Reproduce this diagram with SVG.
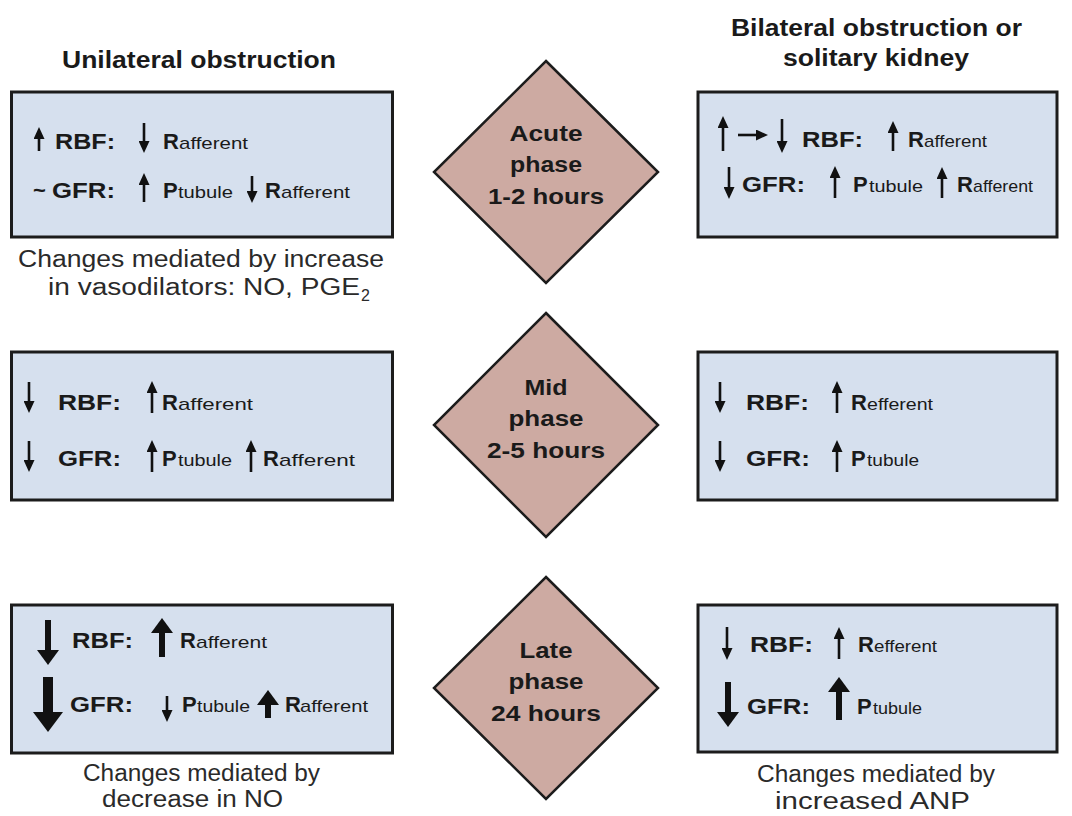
<svg xmlns="http://www.w3.org/2000/svg" width="1072" height="816" viewBox="0 0 1072 816">
<style>
.box{fill:#d6e0ee;stroke:#1c1c1c;stroke-width:3}
.dia{fill:#cdaaa2;stroke:#1c1c1c;stroke-width:2.5}
text{font-family:"Liberation Sans",Arial,Helvetica,sans-serif;fill:#1a1a1a}
.h{font-weight:bold;font-size:23px}
.c{font-size:23px;fill:#2a2a2a}
.d{font-weight:bold;font-size:22px;text-anchor:middle}
.b{font-weight:bold;font-size:22px}
.s{font-size:17px}
.sub{font-size:16px;fill:#2a2a2a}
.t{stroke:#111;stroke-width:2.6;fill:none;marker-end:url(#at)}
.m{stroke:#111;stroke-width:6;fill:none;marker-end:url(#am)}
.g{stroke:#111;stroke-width:10;fill:none;marker-end:url(#ab)}
</style>
<defs>
<marker id="at" markerUnits="userSpaceOnUse" viewBox="0 0 12 11" markerWidth="12" markerHeight="11" refX="3" refY="5.5" orient="auto"><path d="M0,0 L12,5.5 L0,11 z" fill="#111"/></marker>
<marker id="am" markerUnits="userSpaceOnUse" viewBox="0 0 15 22" markerWidth="15" markerHeight="22" refX="2" refY="11" orient="auto"><path d="M0,0 L15,11 L0,22 z" fill="#111"/></marker>
<marker id="ab" markerUnits="userSpaceOnUse" viewBox="0 0 20 30" markerWidth="20" markerHeight="30" refX="2" refY="15" orient="auto"><path d="M0,0 L20,15 L0,30 z" fill="#111"/></marker>
</defs>
<rect width="1072" height="816" fill="#ffffff"/>

<g id="header-unilateral">
<text class="h" x="62" y="68" textLength="274" lengthAdjust="spacingAndGlyphs">Unilateral obstruction</text>
</g>
<g id="header-bilateral">
<text class="h" x="731" y="36" textLength="291" lengthAdjust="spacingAndGlyphs">Bilateral obstruction or</text>
<text class="h" x="783" y="66" textLength="186" lengthAdjust="spacingAndGlyphs">solitary kidney</text>
</g>

<g id="connectors"></g>

<g id="phase-acute">
<polygon class="dia" points="546,61 658,172 546,283 434,172"/>
<text class="d" x="546" y="141" textLength="73" lengthAdjust="spacingAndGlyphs">Acute</text>
<text class="d" x="546" y="172" textLength="72" lengthAdjust="spacingAndGlyphs">phase</text>
<text class="d" x="546" y="204" textLength="116" lengthAdjust="spacingAndGlyphs">1-2 hours</text>
</g>
<g id="phase-mid">
<polygon class="dia" points="546,313 658,425 546,537 434,425"/>
<text class="d" x="546" y="395" textLength="43" lengthAdjust="spacingAndGlyphs">Mid</text>
<text class="d" x="546" y="426" textLength="75" lengthAdjust="spacingAndGlyphs">phase</text>
<text class="d" x="546" y="458" textLength="118" lengthAdjust="spacingAndGlyphs">2-5 hours</text>
</g>
<g id="phase-late">
<polygon class="dia" points="546,577 658,688 546,799 434,688"/>
<text class="d" x="546" y="658" textLength="53" lengthAdjust="spacingAndGlyphs">Late</text>
<text class="d" x="546" y="689" textLength="75" lengthAdjust="spacingAndGlyphs">phase</text>
<text class="d" x="546" y="721" textLength="110" lengthAdjust="spacingAndGlyphs">24 hours</text>
</g>

<g id="uni-acute">
<rect class="box" x="11.5" y="92" width="381" height="145"/>
<line class="t" x1="39" y1="151" x2="39" y2="136"/>
<text class="b" x="55" y="149" textLength="60" lengthAdjust="spacingAndGlyphs">RBF:</text>
<line class="t" x1="144" y1="123" x2="144" y2="144"/>
<text class="b" x="163" y="149">R</text>
<text class="s" x="179" y="149" textLength="69" lengthAdjust="spacingAndGlyphs">afferent</text>
<text class="b" x="33" y="198">~</text>
<text class="b" x="52" y="198" textLength="63" lengthAdjust="spacingAndGlyphs">GFR:</text>
<line class="t" x1="144" y1="202" x2="144" y2="182"/>
<text class="b" x="163" y="198">P</text>
<text class="s" x="178" y="198" textLength="55" lengthAdjust="spacingAndGlyphs">tubule</text>
<line class="t" x1="252" y1="176" x2="252" y2="194"/>
<text class="b" x="265" y="198">R</text>
<text class="s" x="281" y="198" textLength="69" lengthAdjust="spacingAndGlyphs">afferent</text>
</g>
<g id="uni-acute-note">
<text class="c" x="18" y="267" textLength="366" lengthAdjust="spacingAndGlyphs">Changes mediated by increase</text>
<text class="c" x="48" y="295" textLength="312" lengthAdjust="spacingAndGlyphs">in vasodilators: NO, PGE</text>
<text class="sub" x="361" y="301">2</text>
</g>

<g id="bi-acute">
<rect class="box" x="698" y="92" width="359" height="145"/>
<line class="t" x1="723" y1="151" x2="723" y2="125"/>
<line class="t" x1="738" y1="135" x2="759" y2="135"/>
<line class="t" x1="782" y1="119" x2="782" y2="144"/>
<text class="b" x="802" y="147" textLength="61" lengthAdjust="spacingAndGlyphs">RBF:</text>
<line class="t" x1="893" y1="151" x2="893" y2="130"/>
<text class="b" x="908" y="147">R</text>
<text class="s" x="924" y="147" textLength="63" lengthAdjust="spacingAndGlyphs">afferent</text>
<line class="t" x1="729" y1="167" x2="729" y2="190"/>
<text class="b" x="742" y="192" textLength="63" lengthAdjust="spacingAndGlyphs">GFR:</text>
<line class="t" x1="835" y1="198" x2="835" y2="175"/>
<text class="b" x="853" y="192">P</text>
<text class="s" x="869" y="192" textLength="54" lengthAdjust="spacingAndGlyphs">tubule</text>
<line class="t" x1="942" y1="198" x2="942" y2="176"/>
<text class="b" x="957" y="192">R</text>
<text class="s" x="973" y="192" textLength="60" lengthAdjust="spacingAndGlyphs">afferent</text>
</g>

<g id="uni-mid">
<rect class="box" x="11.5" y="352" width="381" height="148"/>
<line class="t" x1="29" y1="382" x2="29" y2="404"/>
<text class="b" x="58" y="410" textLength="63" lengthAdjust="spacingAndGlyphs">RBF:</text>
<line class="t" x1="152" y1="413" x2="152" y2="390"/>
<text class="b" x="162" y="410">R</text>
<text class="s" x="178" y="410" textLength="75" lengthAdjust="spacingAndGlyphs">afferent</text>
<line class="t" x1="29" y1="441" x2="29" y2="463"/>
<text class="b" x="58" y="466" textLength="63" lengthAdjust="spacingAndGlyphs">GFR:</text>
<line class="t" x1="152" y1="472" x2="152" y2="449"/>
<text class="b" x="162" y="466">P</text>
<text class="s" x="178" y="466" textLength="54" lengthAdjust="spacingAndGlyphs">tubule</text>
<line class="t" x1="251" y1="472" x2="251" y2="449"/>
<text class="b" x="263" y="466">R</text>
<text class="s" x="279" y="466" textLength="76" lengthAdjust="spacingAndGlyphs">afferent</text>
</g>

<g id="bi-mid">
<rect class="box" x="698" y="352" width="359" height="148"/>
<line class="t" x1="720" y1="382" x2="720" y2="404"/>
<text class="b" x="746" y="410" textLength="63" lengthAdjust="spacingAndGlyphs">RBF:</text>
<line class="t" x1="837" y1="413" x2="837" y2="390"/>
<text class="b" x="851" y="410">R</text>
<text class="s" x="867" y="410" textLength="66" lengthAdjust="spacingAndGlyphs">efferent</text>
<line class="t" x1="720" y1="441" x2="720" y2="463"/>
<text class="b" x="746" y="466" textLength="64" lengthAdjust="spacingAndGlyphs">GFR:</text>
<line class="t" x1="837" y1="472" x2="837" y2="449"/>
<text class="b" x="851" y="466">P</text>
<text class="s" x="867" y="466" textLength="52" lengthAdjust="spacingAndGlyphs">tubule</text>
</g>

<g id="uni-late">
<rect class="box" x="11.5" y="605" width="381" height="148"/>
<line class="m" x1="48" y1="620" x2="48" y2="652"/>
<text class="b" x="72" y="648" textLength="61" lengthAdjust="spacingAndGlyphs">RBF:</text>
<line class="m" x1="162" y1="657" x2="162" y2="631"/>
<text class="b" x="180" y="648">R</text>
<text class="s" x="196" y="648" textLength="71" lengthAdjust="spacingAndGlyphs">afferent</text>
<line class="g" x1="48" y1="677" x2="48" y2="714"/>
<text class="b" x="70" y="712" textLength="63" lengthAdjust="spacingAndGlyphs">GFR:</text>
<line class="t" x1="167" y1="696" x2="167" y2="713"/>
<text class="b" x="182" y="712">P</text>
<text class="s" x="197" y="712" textLength="53" lengthAdjust="spacingAndGlyphs">tubule</text>
<line class="m" x1="268" y1="718" x2="268" y2="703"/>
<text class="b" x="285" y="712">R</text>
<text class="s" x="300" y="712" textLength="68" lengthAdjust="spacingAndGlyphs">afferent</text>
</g>
<g id="uni-late-note">
<text class="c" x="83" y="781" textLength="237" lengthAdjust="spacingAndGlyphs">Changes mediated by</text>
<text class="c" x="102" y="807" textLength="181" lengthAdjust="spacingAndGlyphs">decrease in NO</text>
</g>

<g id="bi-late">
<rect class="box" x="698" y="605" width="359" height="147"/>
<line class="t" x1="727" y1="627" x2="727" y2="651"/>
<text class="b" x="750" y="652" textLength="63" lengthAdjust="spacingAndGlyphs">RBF:</text>
<line class="t" x1="839" y1="659" x2="839" y2="636"/>
<text class="b" x="858" y="652">R</text>
<text class="s" x="874" y="652" textLength="63" lengthAdjust="spacingAndGlyphs">efferent</text>
<line class="m" x1="728" y1="682" x2="728" y2="714"/>
<text class="b" x="747" y="714" textLength="63" lengthAdjust="spacingAndGlyphs">GFR:</text>
<line class="m" x1="839" y1="720" x2="839" y2="690"/>
<text class="b" x="857" y="714">P</text>
<text class="s" x="873" y="714" textLength="49" lengthAdjust="spacingAndGlyphs">tubule</text>
</g>
<g id="bi-late-note">
<text class="c" x="757" y="782" textLength="238" lengthAdjust="spacingAndGlyphs">Changes mediated by</text>
<text class="c" x="775" y="809" textLength="195" lengthAdjust="spacingAndGlyphs">increased ANP</text>
</g>
</svg>
